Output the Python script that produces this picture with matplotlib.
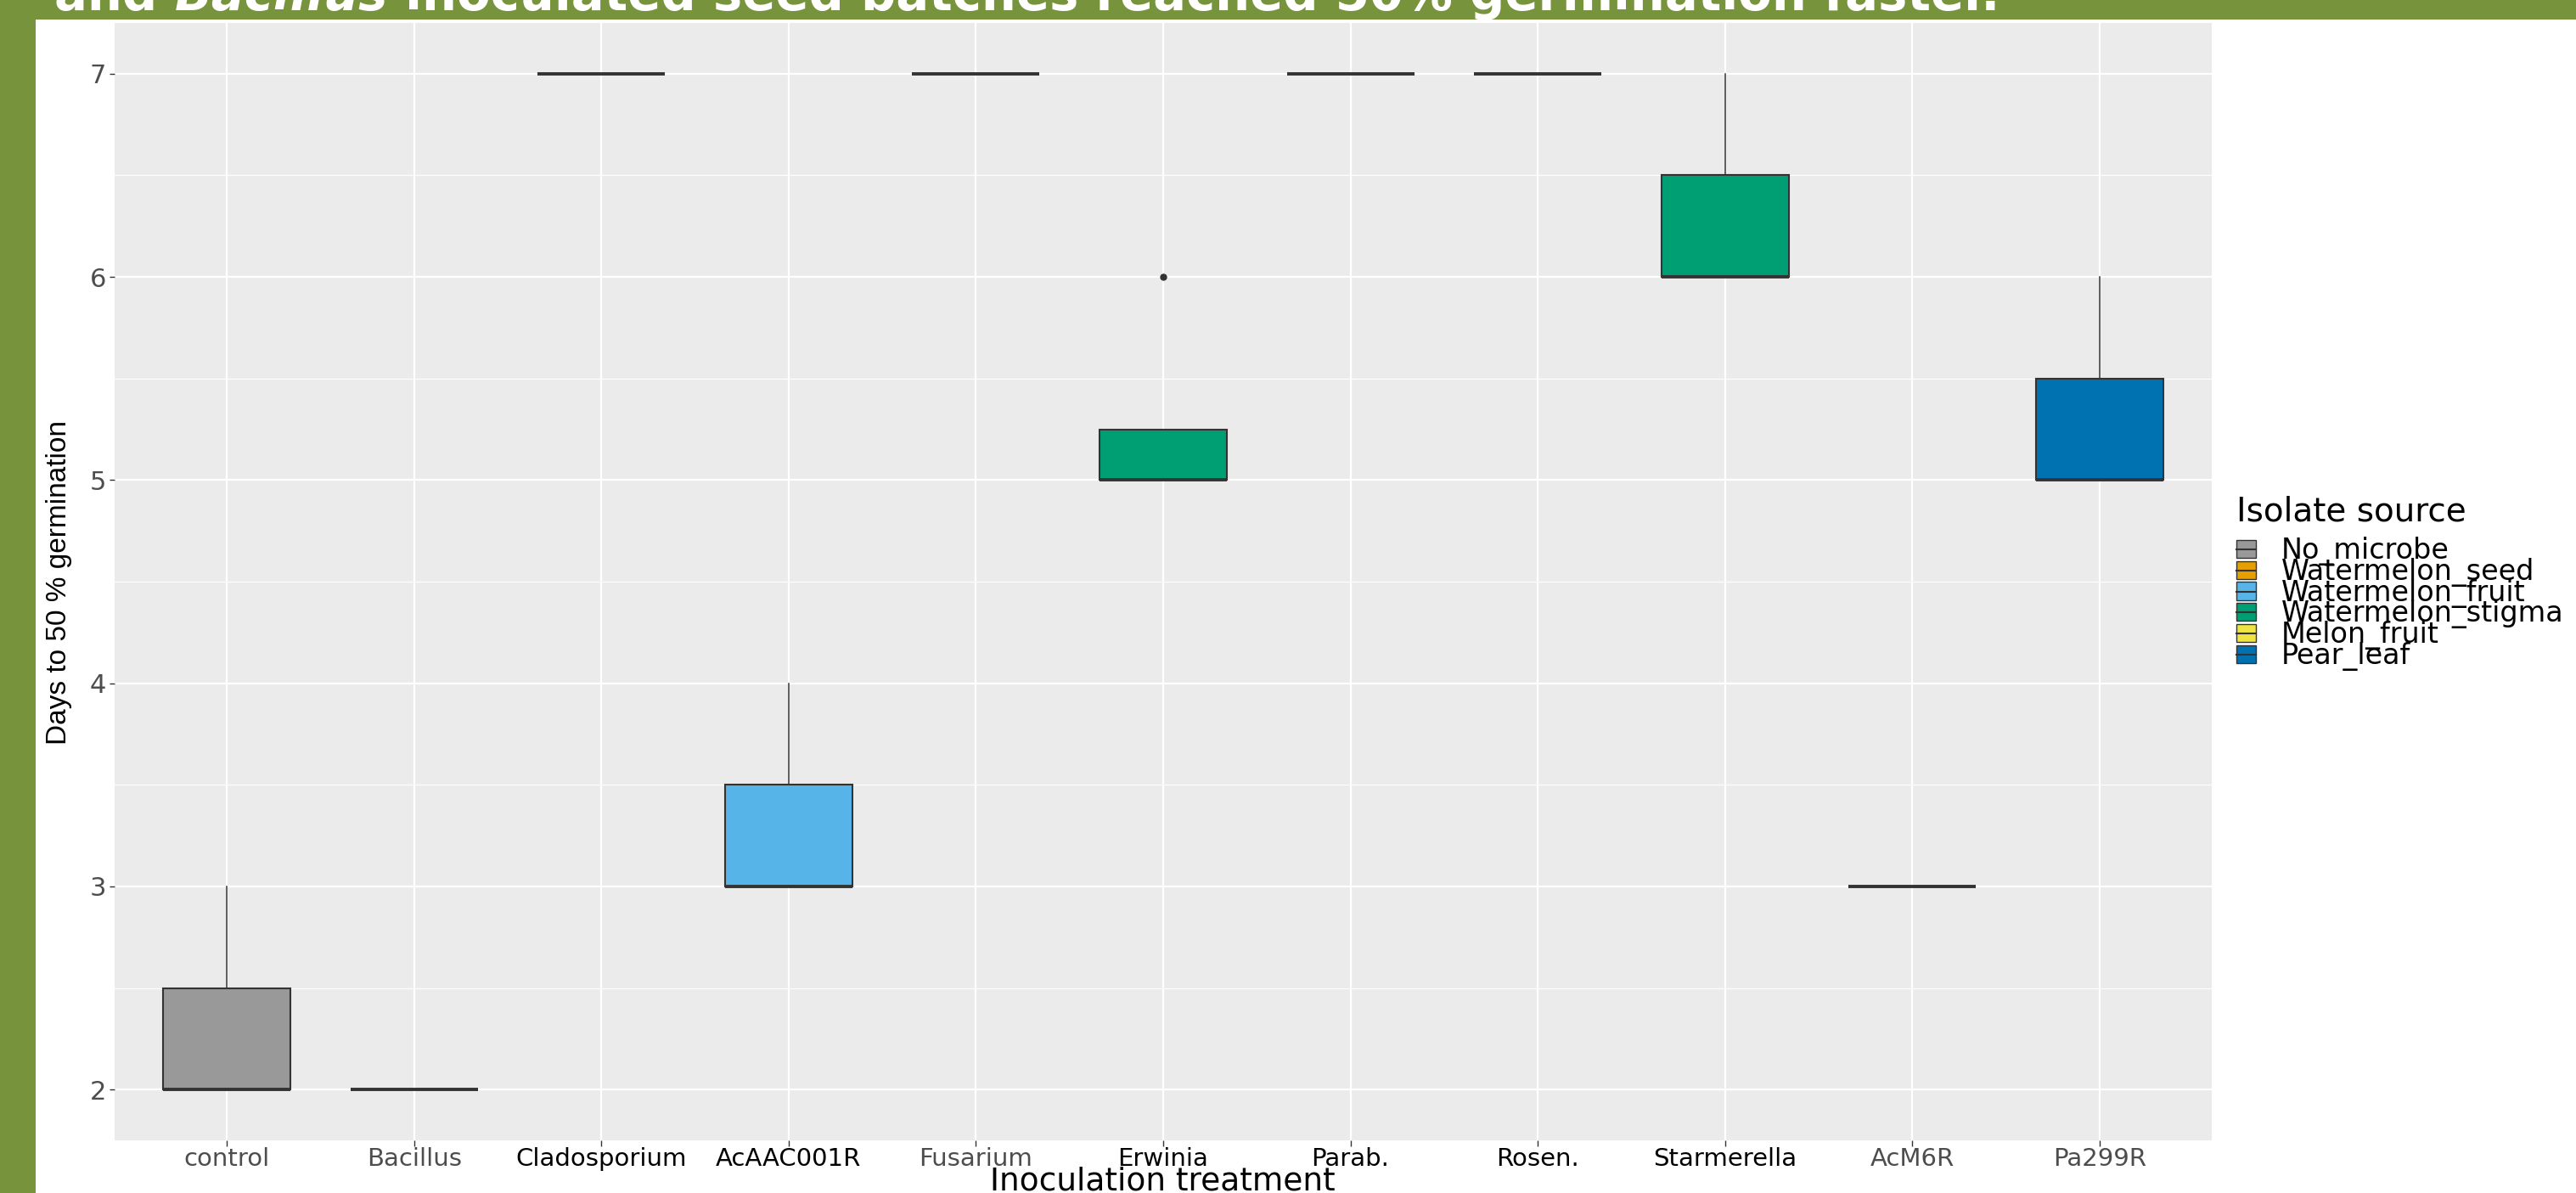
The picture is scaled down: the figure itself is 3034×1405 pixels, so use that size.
import matplotlib
matplotlib.use("Agg")
import matplotlib.pyplot as plt
from matplotlib.patches import Patch, Rectangle
from matplotlib.lines import Line2D
from matplotlib.legend_handler import HandlerTuple
from matplotlib.ticker import MultipleLocator

# Data: days to 50 % germination, one box per inoculation treatment
treatments = ["control", "Bacillus", "Cladosporium", "AcAAC001R", "Fusarium", "Erwinia",
              "Parab.", "Rosen.", "Starmerella", "AcM6R", "Pa299R"]
treatment_source = ["No_microbe", "Watermelon_seed", "Watermelon_seed", "Watermelon_fruit",
                    "Watermelon_seed", "Watermelon_stigma", "Melon_fruit", "Melon_fruit",
                    "Watermelon_stigma", "Melon_fruit", "Pear_leaf"]
box_q1 = [2, 2, 7, 3, 7, 5, 7, 7, 6, 3, 5]
box_median = [2, 2, 7, 3, 7, 5, 7, 7, 6, 3, 5]
box_q3 = [2.5, 2, 7, 3.5, 7, 5.25, 7, 7, 6.5, 3, 5.5]
whisker_low = [2, 2, 7, 3, 7, 5, 7, 7, 6, 3, 5]
whisker_high = [3, 2, 7, 4, 7, 5.25, 7, 7, 7, 3, 6]
outliers = [[], [], [], [], [], [6], [], [], [], [], []]

sources = ["No_microbe", "Watermelon_seed", "Watermelon_fruit", "Watermelon_stigma",
           "Melon_fruit", "Pear_leaf"]
source_colors = ["#999999", "#E69F00", "#56B4E9", "#009E73", "#F0E442", "#0072B2"]

# tick labels on the slide come in two colours
label_colors = ["#4D4D4D", "#4D4D4D", "black", "black", "#4D4D4D", "black",
                "black", "black", "black", "#4D4D4D", "#4D4D4D"]

title_parts = [("and ", "normal"), ("Bacillus", "italic"),
               (" inoculated seed batches reached 50% germination faster.", "normal")]

W, H = 3034, 1405
GREEN = "#77933C"


def main():
    fig = plt.figure(figsize=(W / 100, H / 100), dpi=100)
    fig.patch.set_facecolor("white")

    # slide decoration: green bar on the left, green banner on top
    fig.patches.append(Rectangle((0, 0), 42 / W, 1, transform=fig.transFigure,
                                 facecolor=GREEN, edgecolor="none", zorder=0))
    fig.patches.append(Rectangle((0, 1 - 23 / H), 1, 23 / H, transform=fig.transFigure,
                                 facecolor=GREEN, edgecolor="none", zorder=0))

    # title line (mostly clipped by the top edge)
    renderer = fig.canvas.get_renderer()
    x = 64 / W
    for text, style in title_parts:
        t = fig.text(x, 1 - 12 / H, text, color="white", fontsize=41.5, fontweight="bold",
                     style=style, family="DejaVu Sans", va="baseline", ha="left")
        x += t.get_window_extent(renderer).width / W

    ax = fig.add_axes([135 / W, 1 - 1343 / H, (2605 - 135) / W, (1343 - 27) / H])
    ax.set_facecolor("#EBEBEB")
    for s in ax.spines.values():
        s.set_visible(False)

    stats = []
    for i in range(len(treatments)):
        stats.append({"q1": box_q1[i], "med": box_median[i], "q3": box_q3[i],
                      "whislo": whisker_low[i], "whishi": whisker_high[i],
                      "fliers": outliers[i]})
    positions = list(range(1, len(treatments) + 1))
    bp = ax.bxp(stats, positions=positions, widths=0.68, patch_artist=True, showcaps=False,
                boxprops=dict(edgecolor="#333333", linewidth=1.5),
                medianprops=dict(color="#333333", linewidth=2.8, solid_capstyle="butt"),
                whiskerprops=dict(color="#333333", linewidth=1.1),
                flierprops=dict(marker="o", markersize=5, markerfacecolor="#333333",
                                markeredgecolor="#333333"))
    for patch, src in zip(bp["boxes"], treatment_source):
        patch.set_facecolor(source_colors[sources.index(src)])

    ax.set_xlim(0.4, len(treatments) + 0.6)
    ax.set_ylim(1.75, 7.25)
    ax.set_xticks(positions)
    ax.set_xticklabels(treatments, fontsize=21, family="DejaVu Sans")
    for lab, c in zip(ax.get_xticklabels(), label_colors):
        lab.set_color(c)
    ax.yaxis.set_major_locator(MultipleLocator(1))
    ax.yaxis.set_minor_locator(MultipleLocator(0.5))
    ax.tick_params(axis="y", labelsize=22, labelcolor="#4D4D4D", color="#333333",
                   length=4, width=1, pad=3)
    ax.tick_params(axis="x", color="#333333", length=5, width=1, pad=1)
    ax.tick_params(which="minor", length=0)
    ax.set_axisbelow(True)
    ax.grid(which="major", color="white", linewidth=1.6)
    ax.grid(which="minor", axis="y", color="white", linewidth=0.8)

    # axis titles
    fig.text(70 / W, 1 - 686 / H, "Days to 50 % germination", rotation=90, fontsize=24,
             family="Liberation Sans", color="black", ha="center", va="center")
    fig.text(1369 / W, 1 - 1401 / H, "Inoculation treatment", fontsize=27,
             family="DejaVu Sans", color="black", ha="center", va="baseline")

    # legend
    handles = []
    for c in source_colors:
        handles.append((Patch(facecolor=c, edgecolor="#333333", linewidth=1.0),
                        Line2D([], [], color="#333333", linewidth=1.5)))
    leg = fig.legend(handles, sources, loc="upper left",
                     bbox_to_anchor=(2622 / W, 1 - 572 / H), frameon=False,
                     title="Isolate source", fontsize=24, title_fontsize=28,
                     labelspacing=-0.276, handlelength=0.7, handleheight=0.6,
                     handletextpad=0.9, borderpad=0.35, borderaxespad=0,
                     handler_map={tuple: HandlerTuple(ndivide=1)})
    leg._legend_box.align = "left"
    leg._legend_box.sep = 7.5  # gap between legend title and first key
    for t in leg.get_texts():
        t.set_family("DejaVu Sans")
    leg.get_title().set_family("DejaVu Sans")

    fig.savefig("out.png", dpi=100, facecolor="white")
    return 0


if __name__ == "__main__":
    main()
